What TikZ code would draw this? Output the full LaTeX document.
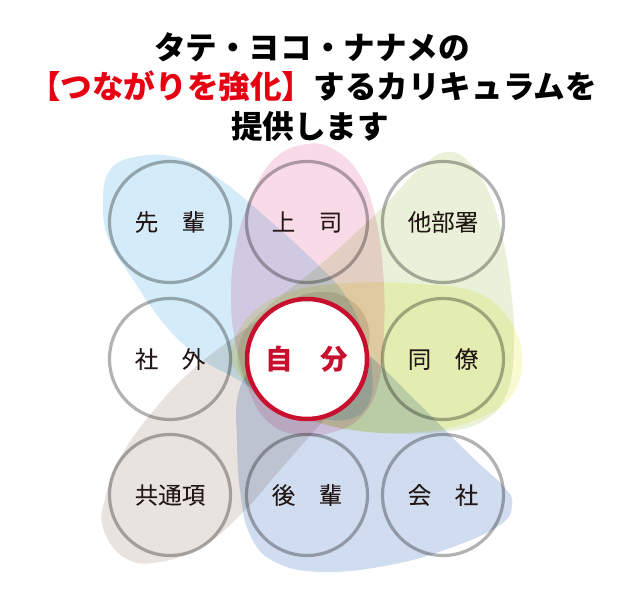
\documentclass[tikz,border=0pt]{standalone}
\usepackage{fontspec}
\setmainfont{Noto Sans CJK JP}
\newfontfamily\labfont[FakeBold=0.5]{Noto Sans CJK JP}
\definecolor{skyc}{HTML}{D4ECF9}
\definecolor{pinkc}{HTML}{F9DAE7}
\definecolor{greenc}{HTML}{E9F2D8}
\definecolor{yellowc}{HTML}{FAFAD2}
\definecolor{beigec}{HTML}{E8E3DF}
\definecolor{peric}{HTML}{D0DCF0}
\definecolor{redc}{HTML}{C8102E}
\definecolor{titlered}{HTML}{E60012}
\definecolor{labtext}{HTML}{231815}
\tikzset{
  blob/.style={blend mode=multiply},
  ring/.style={circle, minimum size=121, inner sep=0pt, draw=black, draw opacity=0.3,
    line width=3.2pt, text=labtext, font=\labfont\fontsize{23.5}{24}\selectfont},
  selfring/.style={circle, minimum size=120, inner sep=0pt, draw=redc, fill=white,
    line width=4.5pt, text=redc, font=\bfseries\fontsize{27.5}{28}\selectfont},
  titletext/.style={inner sep=0pt, text=black, font=\bfseries\fontsize{31.6}{32}\selectfont}
}
\begin{document}
\begin{tikzpicture}[x=1pt,y=-1pt]
\fill[white] (0,0) rectangle (638,601);
\useasboundingbox (0,0) rectangle (638,601);
% blobs
\fill[blob, fill=skyc] plot[smooth cycle, tension=0.7] coordinates {
 (103,200) (110,170) (135,157) (175,157) (215,176) (260,212) (315,262) (345,295)
 (362,330) (372,370) (368,405) (345,420) (310,415) (270,398) (235,378) (200,358) (165,325) (130,275) (108,238)};
\fill[blob, fill=pinkc] plot[smooth cycle, tension=0.7] coordinates {
 (307,144) (335,150) (360,175) (375,215) (383,270) (384,330) (378,385) (360,418)
 (330,433) (300,435) (272,425) (252,398) (237,350) (231,300) (236,245) (252,195) (275,158)};
\fill[blob, fill=greenc] plot[smooth cycle, tension=0.7] coordinates {
 (447,152) (470,163) (490,195) (503,240) (511,290) (514,340) (508,390) (485,420)
 (440,432) (370,432) (310,420) (265,400) (240,372) (243,335) (270,305) (320,265) (380,210) (420,168)};
\fill[blob, fill=yellowc] plot[smooth cycle, tension=0.7] coordinates {
 (232,350) (250,315) (290,292) (350,283) (420,284) (475,292) (508,318) (522,355)
 (512,395) (475,420) (420,432) (350,430) (300,415) (260,392) (237,372)};
\fill[blob, fill=beigec] plot[smooth cycle, tension=0.7] coordinates {
 (103,528) (106,495) (120,458) (150,415) (190,372) (240,333) (285,303) (320,292)
 (350,300) (368,325) (365,360) (345,395) (315,430) (280,470) (245,510) (205,545) (160,562) (125,558)};
\fill[blob, fill=peric] plot[smooth cycle, tension=0.7] coordinates {
 (238,395) (255,365) (290,345) (330,340) (362,350) (420,405) (470,455) (505,488)
 (512,505) (500,525) (450,548) (390,565) (323,572) (275,562) (250,535) (240,490) (237,440)};
% title
\node[titletext] (t1) at (312,47) {タテ・ヨコ・ナナメの};
\node[titletext] (t2) at (313,86) {\textcolor{titlered}{【つながりを強化】}するカリキュラムを};
\node[titletext] (t3) at (310,126) {提供します};
% circles
\node[ring] (senpai) at (170,222) {先　輩};
\node[ring] (joshi) at (307,222) {上　司};
\node[ring] (tabusho) at (443,222) {他部署};
\node[ring] (shagai) at (170,359) {社　外};
\node[selfring] (jibun) at (307,359) {自　分};
\node[ring] (doryo) at (443,359) {同　僚};
\node[ring] (kyotsu) at (170,495) {共通項};
\node[ring] (kohai) at (307,495) {後　輩};
\node[ring] (kaisha) at (443,495) {会　社};
\end{tikzpicture}
\end{document}
